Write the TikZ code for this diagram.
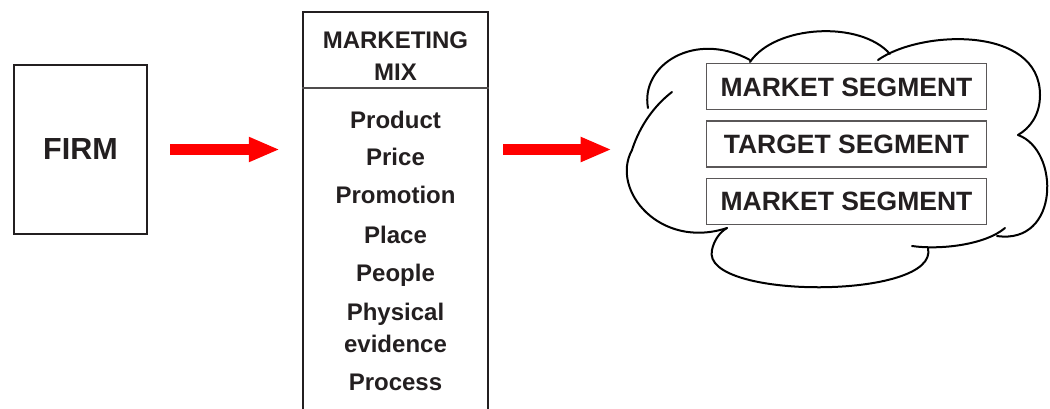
\documentclass[tikz,border=0pt]{standalone}
\usepackage{fontspec}
\setmainfont{Liberation Sans}
\usepackage{tikz}
\usetikzlibrary{matrix,arrows.meta}

\definecolor{inkgray}{RGB}{35,31,32}
\definecolor{fatred}{RGB}{255,0,0}

\begin{document}
\begin{tikzpicture}[x=1pt, y=-1pt,
        every node/.style={text=inkgray},
        bigbox/.style={draw=inkgray, line width=2.4pt},
        item/.style={font=\fontsize{24}{28}\selectfont\bfseries, inner sep=0pt, text height=17pt, text depth=0pt},
        segbox/.style={draw=inkgray!75, line width=1.3pt, minimum width=280pt, minimum height=46pt,
                       font=\fontsize{26.5}{30}\selectfont\bfseries, inner sep=0pt, text height=19pt, text depth=0pt},
        fatarrow/.style={fatred, line width=11pt, -{Triangle[length=31pt, width=23pt]}},
        lobe/.style={draw=black, line width=2pt, line cap=round}]
            \clip (0,0) rectangle (1050,408);

            % left box
            \node[bigbox, minimum width=133pt, minimum height=169pt,
                  font=\fontsize{30.5}{34}\selectfont\bfseries] (firm) at (80.5,149.5) {FIRM};

            % the mix column, open at the bottom
            \node[bigbox, minimum width=185pt, minimum height=420pt, anchor=north] (mix) at (395.5,11) {};
            \draw[inkgray!80, line width=1.2pt] (mix.west |- 0,88) -- (mix.east |- 0,88);

            \node[item] (mkt)  at (395.5,39.5)  {MARKETING};
            \node[item] (mx)   at (395.5,71.5)  {MIX};
            \node[item] (prod) at (395.5,119.5) {Product};
            \node[item] (pri)  at (395.5,157)   {Price};
            \node[item] (prom) at (395.5,195)   {Promotion};
            \node[item] (pla)  at (395.5,234.5) {Place};
            \node[item] (peo)  at (395.5,273)   {People};
            \node[item] (phy)  at (395.5,312)   {Physical};
            \node[item] (evi)  at (395.5,344)   {evidence};
            \node[item] (proc) at (395.5,381.5) {Process};

            % segments
            \matrix[matrix of nodes,
                    nodes={segbox},
                    row sep=10pt, inner sep=0pt] (segs) at (846.5,144) {
            MARKET SEGMENT \\
            TARGET SEGMENT \\
            MARKET SEGMENT \\
            };

            % cloud round the segments
            \draw[lobe] (648,108) .. controls (640,65) and (695,30) .. (750,60);
            \draw[lobe] (750,62) .. controls (775,25) and (860,20) .. (890,54);
            \draw[lobe] (878,60) .. controls (920,30) and (1040,25) .. (1040,95)
                        .. controls (1040,115) and (1030,128) .. (1018,135);
            \draw[lobe] (1018,135) .. controls (1060,150) and (1060,245) .. (997,236);
            \draw[lobe] (1005,228) .. controls (985,245) and (940,250) .. (912,246);
            \draw[lobe] (928,248) .. controls (940,300) and (700,300) .. (712,250)
                        .. controls (714,240) and (720,232) .. (727,228);
            \draw[lobe] (727,228) .. controls (660,250) and (610,190) .. (632,150)
                        .. controls (640,125) and (655,105) .. (672,92);

            % arrows
            \draw[fatarrow, shorten <=22pt, shorten >=22pt] (firm.east) -- (firm.east -| mix.west);
            \draw[fatarrow, shorten <=14pt, shorten >=94pt] (firm.east -| mix.east) -- (firm.east -| segs.west);
        \end{tikzpicture}
\end{document}
